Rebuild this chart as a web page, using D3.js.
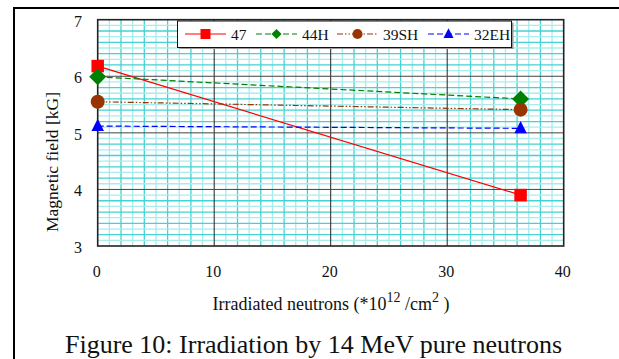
<!DOCTYPE html>
<html>
<head>
<meta charset="utf-8">
<script src="https://cdn.jsdelivr.net/npm/d3@7"></script>
<style>
  body { margin: 0; background: #fff; }
  svg { display: block; }
  svg text { font-family: "Liberation Serif", "DejaVu Serif", serif; }
</style>
</head>
<body>
<svg id="chart" width="619" height="359"></svg>
<script>
// Data
const doses = [0, 36.3];
const series = ["47", "44H", "39SH", "32EH"];
const field47 = [6.18, 3.90];
const field44H = [5.99, 5.60];
const field39SH = [5.55, 5.41];
const field32EH = [5.12, 5.08];
const xTicks = [0, 10, 20, 30, 40];
const yTicks = [3, 4, 5, 6, 7];

const values = [field47, field44H, field39SH, field32EH];
const styles = [
    { color: "#ff0000", dash: null, marker: "square" },
    { color: "#008000", dash: "6,3", marker: "diamond" },
    { color: "#993300", dash: "6,2,1.5,2,1.5,2", marker: "circle" },
    { color: "#0000ff", dash: "6,3", marker: "triangle" }
];

const svg = d3.select("#chart");

// outer frame (left and top edges only, as in the page scan)
svg.append("path")
    .attr("d", "M14,359 V8 H619")
    .attr("fill", "none")
    .attr("stroke", "#000")
    .attr("stroke-width", 2);

const x = d3.scaleLinear().domain([0, 40]).range([97.7, 563.7]);
const y = d3.scaleLinear().domain([3, 7]).range([246, 19.7]);

const plot = svg.append("g");

// minor grid
d3.range(1, 40).filter(d => d % 10 !== 0).forEach(d => {
    plot.append("line")
        .attr("x1", x(d)).attr("x2", x(d))
        .attr("y1", y(3)).attr("y2", y(7))
        .attr("stroke", d % 2 ? "#a8ecec" : "#45d2d2")
        .attr("stroke-width", 1.3);
});
d3.range(31, 70).filter(d => d % 10 !== 0).forEach(d => {
    plot.append("line")
        .attr("x1", x(0)).attr("x2", x(40))
        .attr("y1", y(d / 10)).attr("y2", y(d / 10))
        .attr("stroke", d % 2 ? "#a8ecec" : "#45d2d2")
        .attr("stroke-width", 1.3);
});

// major grid
[10, 20, 30].forEach(d => {
    plot.append("line")
        .attr("x1", x(d)).attr("x2", x(d))
        .attr("y1", y(3)).attr("y2", y(7))
        .attr("stroke", "#222").attr("stroke-width", 1);
});
[4, 5, 6].forEach(d => {
    plot.append("line")
        .attr("x1", x(0)).attr("x2", x(40))
        .attr("y1", y(d)).attr("y2", y(d))
        .attr("stroke", "#444").attr("stroke-width", 1);
});

plot.append("rect")
    .attr("x", x(0)).attr("y", y(7))
    .attr("width", x(40) - x(0)).attr("height", y(3) - y(7))
    .attr("fill", "none")
    .attr("stroke", "#222")
    .attr("stroke-width", 1.6);

// axes (labels only)
const xAxis = d3.axisBottom(x).tickValues(xTicks).tickFormat(d3.format("d")).tickSize(0).tickPadding(0);
const gx = svg.append("g").attr("transform", "translate(-1.5,265.3)").call(xAxis)
    .attr("font-family", null).attr("font-size", 16);
gx.select(".domain").remove();
gx.selectAll("text").attr("fill", "#111");

const yAxis = d3.axisLeft(y).tickValues(yTicks).tickFormat(d3.format("d")).tickSize(0).tickPadding(0);
const gy = svg.append("g").attr("transform", "translate(82,1.3)").call(yAxis)
    .attr("font-family", null).attr("font-size", 16);
gy.select(".domain").remove();
gy.selectAll("text").attr("fill", "#111");

// markers
function marker(g, type, cx, cy, color, s) {
    if (type === "square") {
        g.append("rect").attr("x", cx - s / 2).attr("y", cy - s / 2)
            .attr("width", s).attr("height", s).attr("fill", color);
    } else if (type === "diamond") {
        const r = s * 0.68;
        g.append("path").attr("d", `M${cx},${cy - r}L${cx + r},${cy}L${cx},${cy + r}L${cx - r},${cy}Z`)
            .attr("fill", color);
    } else if (type === "circle") {
        g.append("circle").attr("cx", cx).attr("cy", cy).attr("r", s * 0.56).attr("fill", color);
    } else {
        g.append("path").attr("d", `M${cx},${cy - s * 0.58}L${cx + s * 0.5},${cy + s * 0.4}L${cx - s * 0.5},${cy + s * 0.4}Z`)
            .attr("fill", color);
    }
}

const line = d3.line().x((d, i) => x(doses[i])).y(d => y(d));
values.forEach((vals, k) => {
    const st = styles[k];
    plot.append("path")
        .datum(vals)
        .attr("d", line)
        .attr("fill", "none")
        .attr("stroke", st.color)
        .attr("stroke-width", 1.2)
        .attr("stroke-dasharray", st.dash);
});
values.forEach((vals, k) => {
    const st = styles[k];
    vals.forEach((v, i) => marker(plot, st.marker, x(doses[i]), y(v), st.color, 12.5));
});

// legend
const leg = svg.append("g");
leg.append("rect").attr("x", 179.5).attr("y", 22.5).attr("width", 334).attr("height", 26.5).attr("fill", "#999");
leg.append("rect").attr("x", 177.5).attr("y", 21).attr("width", 334).attr("height", 26.5)
    .attr("fill", "#fff").attr("stroke", "#111").attr("stroke-width", 1);
const legX = [185, 256, 337, 428];
series.forEach((name, k) => {
    const st = styles[k];
    const x0 = legX[k], ly = 34;
    leg.append("line").attr("x1", x0).attr("x2", x0 + 41).attr("y1", ly).attr("y2", ly)
        .attr("stroke", st.color).attr("stroke-width", 1.2).attr("stroke-dasharray", st.dash);
    const ms = { square: 10, diamond: 7.5, circle: 9, triangle: 10 }[st.marker];
    marker(leg, st.marker, x0 + 20.5, ly, st.color, ms);
    leg.append("text").attr("x", x0 + 46).attr("y", ly + 5.5).attr("font-size", 15.5).attr("fill", "#111").text(name);
});

// axis titles
svg.append("text")
    .attr("transform", "translate(58,162) rotate(-90)")
    .attr("text-anchor", "middle")
    .attr("font-size", 17.5)
    .attr("fill", "#111")
    .text("Magnetic field [kG]");

const xt = svg.append("text")
    .attr("x", 331).attr("y", 310)
    .attr("text-anchor", "middle")
    .attr("font-size", 18)
    .attr("fill", "#111");
xt.append("tspan").text("Irradiated neutrons (*10");
xt.append("tspan").attr("dy", -8).attr("font-size", 14).text("12");
xt.append("tspan").attr("dy", 8).text(" /cm");
xt.append("tspan").attr("dy", -8).attr("font-size", 14).text("2");
xt.append("tspan").attr("dy", 8).text(" )");

svg.append("text")
    .attr("x", 313.5).attr("y", 352.5)
    .attr("text-anchor", "middle")
    .attr("font-size", 26)
    .attr("fill", "#111")
    .text("Figure 10: Irradiation by 14 MeV pure neutrons");
</script>
</body>
</html>
